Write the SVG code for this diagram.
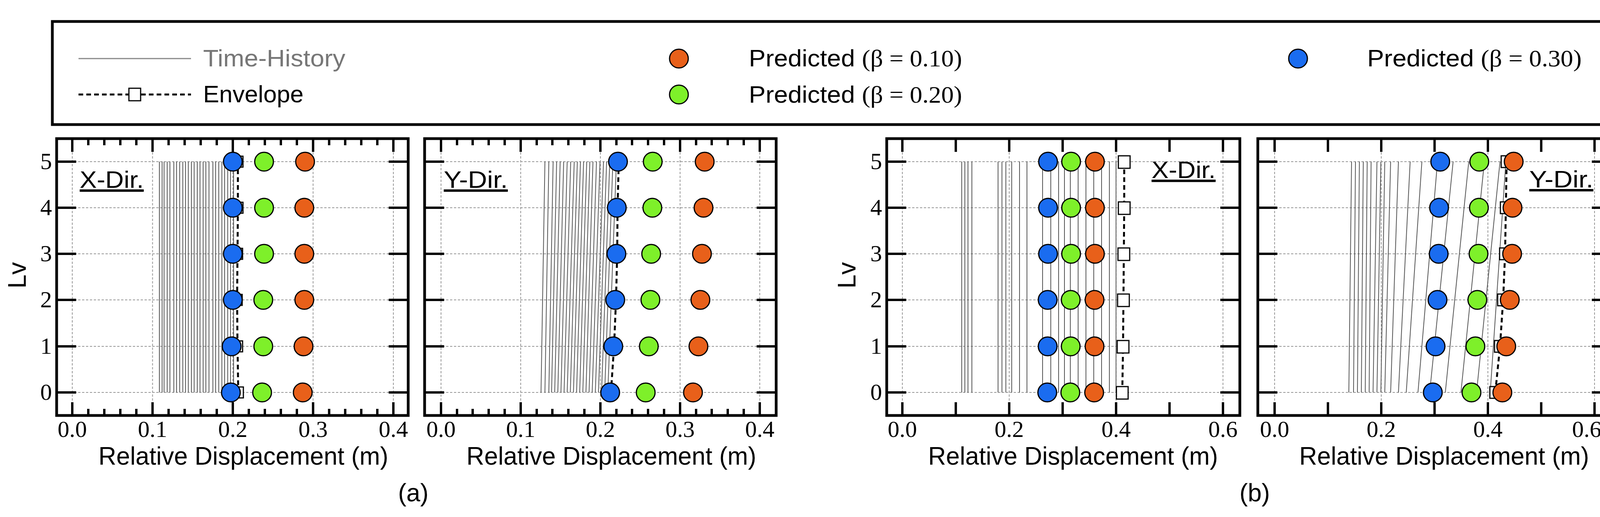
<svg xmlns="http://www.w3.org/2000/svg" width="4180" height="1324" viewBox="0 0 4180 1324">
<style>
.frame{fill:none;stroke:#000;stroke-width:7}
.tk{fill:none;stroke:#000;stroke-width:6}
.grid{fill:none;stroke:#999;stroke-width:2;stroke-dasharray:6 4}
.th{fill:none;stroke:#555;stroke-width:2}
.env{fill:none;stroke:#000;stroke-width:5;stroke-dasharray:12 8}
.sq{fill:#fff;stroke:#000;stroke-width:3}
.b{fill:#1a6cf0;stroke:#000;stroke-width:3}
.g{fill:#7ef02a;stroke:#000;stroke-width:3}
.o{fill:#e8601a;stroke:#000;stroke-width:3}
.num{font-family:"Liberation Serif",serif;font-size:60px;fill:#000}
.lab{font-family:"Liberation Sans",sans-serif;font-size:64px;fill:#000}
.leg{font-family:"Liberation Sans",sans-serif;font-size:62px;fill:#000}
.ser{font-family:"Liberation Serif",serif}
.dir{font-family:"Liberation Sans",sans-serif;font-size:62px;fill:#000;text-decoration:underline}
</style>
<g id="legend">
<rect x="134" y="55" width="3968" height="264" class="frame"/>
<line x1="201" y1="150" x2="489" y2="150" stroke="#888" stroke-width="3"/>
<text x="520" y="170" class="leg" style="fill:#777" textLength="364" lengthAdjust="spacingAndGlyphs">Time-History</text>
<line x1="201" y1="242" x2="489" y2="242" class="env"/>
<rect x="330" y="226" width="30" height="32" class="sq"/>
<text x="520" y="262" class="leg" textLength="257" lengthAdjust="spacingAndGlyphs">Envelope</text>
<ellipse cx="1738" cy="150" rx="24" ry="24" class="o"/>
<text x="1917" y="170" class="leg" textLength="546" lengthAdjust="spacingAndGlyphs">Predicted <tspan class="ser">(β = 0.10)</tspan></text>
<ellipse cx="1738" cy="242" rx="24" ry="24" class="g"/>
<text x="1917" y="263" class="leg" textLength="546" lengthAdjust="spacingAndGlyphs">Predicted <tspan class="ser">(β = 0.20)</tspan></text>
<ellipse cx="3323" cy="150" rx="24" ry="24" class="b"/>
<text x="3500" y="170" class="leg" textLength="549" lengthAdjust="spacingAndGlyphs">Predicted <tspan class="ser">(β = 0.30)</tspan></text>
</g>

<g id="panel-a-x">
<path class="grid" d="M185 360V1060M390.5 360V1060M596 360V1060M801.5 360V1060M1007 360V1060M150 414H1040M150 532H1040M150 650H1040M150 768H1040M150 887H1040M150 1005H1040"/>
<path class="th" d="M408 1005V414M415 1005V414M420 1005V414M428 1005V414M435 1005V414M445 1005V414M452 1005V414M460 1005V414M468 1005V414M475 1005V414M482 1005V414M490 1005V414M497 1005V414M505 1005V414M512 1005V414M520 1005V414M527 1005V414M535 1005V414M545 1005V414M552 1005V414M560 1005V414M568 1005V414M575 1005V414M583 1005V414M590 1005V414M598 1005V414"/>
<path class="env" d="M609 414L609 532L608 650L607 768L608 887L610 1005"/>
<g class="sq"><rect x="596" y="400" width="26" height="28"/><rect x="596" y="518" width="26" height="28"/><rect x="595" y="636" width="26" height="28"/><rect x="594" y="754" width="26" height="28"/><rect x="595" y="873" width="26" height="28"/><rect x="597" y="991" width="26" height="28"/></g>
<g class="b"><circle cx="596" cy="414" r="24"/><circle cx="596" cy="532" r="24"/><circle cx="596" cy="650" r="24"/><circle cx="596" cy="768" r="24"/><circle cx="593" cy="887" r="24"/><circle cx="591" cy="1005" r="24"/></g>
<g class="g"><circle cx="676" cy="414" r="24"/><circle cx="676" cy="532" r="24"/><circle cx="676" cy="650" r="24"/><circle cx="674" cy="768" r="24"/><circle cx="674" cy="887" r="24"/><circle cx="671" cy="1005" r="24"/></g>
<g class="o"><circle cx="781" cy="414" r="24"/><circle cx="779" cy="532" r="24"/><circle cx="779" cy="650" r="24"/><circle cx="779" cy="768" r="24"/><circle cx="777" cy="887" r="24"/><circle cx="775" cy="1005" r="24"/></g>
<path class="tk" d="M185 355v34M390.5 355v34M596 355v34M801.5 355v34M1007 355v34M185 1064v-34M390.5 1064v-34M596 1064v-34M801.5 1064v-34M1007 1064v-34"/>
<path class="tk" stroke-width="4" d="M226 355v17M267 355v17M308 355v17M349 355v17M431.6 355v17M472.7 355v17M513.8 355v17M554.9 355v17M637 355v17M678 355v17M719 355v17M760 355v17M842.6 355v17M883.7 355v17M924.8 355v17M965.9 355v17M226 1064v-17M267 1064v-17M308 1064v-17M349 1064v-17M431.6 1064v-17M472.7 1064v-17M513.8 1064v-17M554.9 1064v-17M637 1064v-17M678 1064v-17M719 1064v-17M760 1064v-17M842.6 1064v-17M883.7 1064v-17M924.8 1064v-17M965.9 1064v-17"/>
<path class="tk" d="M145 414h50M145 532h50M145 650h50M145 768h50M145 887h50M145 1005h50M1045 414h-50M1045 532h-50M1045 650h-50M1045 768h-50M1045 887h-50M1045 1005h-50"/>
<rect x="145" y="355" width="900" height="709" class="frame"/>
<text x="204" y="481" class="dir" textLength="164" lengthAdjust="spacingAndGlyphs">X-Dir.</text>
<g class="num" text-anchor="middle"><text x="185" y="1119">0.0</text><text x="390.5" y="1119">0.1</text><text x="596" y="1119">0.2</text><text x="801.5" y="1119">0.3</text><text x="1007" y="1119">0.4</text></g>
<g class="num" text-anchor="middle"><text x="118" y="433">5</text><text x="118" y="551">4</text><text x="118" y="669">3</text><text x="118" y="787">2</text><text x="118" y="906">1</text><text x="118" y="1024">0</text></g>
<text x="623" y="1190" class="lab" text-anchor="middle" textLength="742" lengthAdjust="spacingAndGlyphs">Relative Displacement (m)</text>
<text transform="translate(66 705) rotate(-90)" class="lab" text-anchor="middle">Lv</text>
</g>

<g id="panel-a-y">
<path class="grid" d="M1129 360V1060M1333 360V1060M1537 360V1060M1741 360V1060M1945 360V1060M1092 414H1982M1092 532H1982M1092 650H1982M1092 768H1982M1092 887H1982M1092 1005H1982"/>
<path class="th" d="M1385 1005L1395 414M1395 1005L1405 414M1405 1005L1416 414M1412 1005L1425 414M1420 1005L1434 414M1428 1005L1443 414M1436 1005L1452 414M1444 1005L1461 414M1452 1005L1470 414M1460 1005L1478 414M1468 1005L1486 414M1476 1005L1494 414M1484 1005L1502 414M1492 1005L1510 414M1500 1005L1518 414M1508 1005L1527 414M1516 1005L1536 414M1524 1005L1545 414M1532 1005L1553 414M1540 1005L1561 414M1548 1005L1569 414M1556 1005L1578 414"/>
<path class="env" d="M1584 414L1581 532L1580 650L1577 768L1572 887L1564 1005"/>
<g class="b"><circle cx="1582" cy="414" r="24"/><circle cx="1579" cy="532" r="24"/><circle cx="1578" cy="650" r="24"/><circle cx="1575" cy="768" r="24"/><circle cx="1570" cy="887" r="24"/><circle cx="1562" cy="1005" r="24"/></g>
<g class="g"><circle cx="1671" cy="414" r="24"/><circle cx="1670" cy="532" r="24"/><circle cx="1667" cy="650" r="24"/><circle cx="1665" cy="768" r="24"/><circle cx="1661" cy="887" r="24"/><circle cx="1653" cy="1005" r="24"/></g>
<g class="o"><circle cx="1804" cy="414" r="24"/><circle cx="1801" cy="532" r="24"/><circle cx="1797" cy="650" r="24"/><circle cx="1793" cy="768" r="24"/><circle cx="1788" cy="887" r="24"/><circle cx="1774" cy="1005" r="24"/></g>
<path class="tk" d="M1129 355v34M1333 355v34M1537 355v34M1741 355v34M1945 355v34M1129 1064v-34M1333 1064v-34M1537 1064v-34M1741 1064v-34M1945 1064v-34"/>
<path class="tk" stroke-width="4" d="M1170 355v17M1210 355v17M1251 355v17M1292 355v17M1374 355v17M1414 355v17M1455 355v17M1496 355v17M1578 355v17M1618 355v17M1659 355v17M1700 355v17M1782 355v17M1822 355v17M1863 355v17M1904 355v17M1170 1064v-17M1210 1064v-17M1251 1064v-17M1292 1064v-17M1374 1064v-17M1414 1064v-17M1455 1064v-17M1496 1064v-17M1578 1064v-17M1618 1064v-17M1659 1064v-17M1700 1064v-17M1782 1064v-17M1822 1064v-17M1863 1064v-17M1904 1064v-17"/>
<path class="tk" d="M1087 414h50M1087 532h50M1087 650h50M1087 768h50M1087 887h50M1087 1005h50M1987 414h-50M1987 532h-50M1987 650h-50M1987 768h-50M1987 887h-50M1987 1005h-50"/>
<rect x="1087" y="355" width="900" height="709" class="frame"/>
<text x="1136" y="481" class="dir" textLength="164" lengthAdjust="spacingAndGlyphs">Y-Dir.</text>
<g class="num" text-anchor="middle"><text x="1129" y="1119">0.0</text><text x="1333" y="1119">0.1</text><text x="1537" y="1119">0.2</text><text x="1741" y="1119">0.3</text><text x="1945" y="1119">0.4</text></g>
<text x="1565" y="1190" class="lab" text-anchor="middle" textLength="742" lengthAdjust="spacingAndGlyphs">Relative Displacement (m)</text>
</g>
<text x="1058" y="1284" class="lab" text-anchor="middle">(a)</text>

<g id="panel-b-x">
<path class="grid" d="M2310 360V1060M2583.6 360V1060M2857.2 360V1060M3130.8 360V1060M2275 414H3169M2275 532H3169M2275 650H3169M2275 768H3169M2275 887H3169M2275 1005H3169"/>
<path class="th" d="M2462 1005V414M2470 1005V414M2478 1005V414M2488 1005V414M2555 1005V414M2565 1005V414M2575 1005V414M2590 1005V414M2610 1005V414M2629 1005V414M2669 1005V414M2690 1005V414M2710 1005V414M2725 1005V414M2740 1005V414M2760 1005V414M2780 1005V414M2800 1005V414M2820 1005V414M2840 1005V414M2857 1005V414"/>
<path class="env" d="M2878 414L2878 532L2877 650L2876 768L2875 887L2873 1005"/>
<g class="sq"><rect x="2863" y="399" width="30" height="32"/><rect x="2863" y="517" width="30" height="32"/><rect x="2862" y="635" width="30" height="32"/><rect x="2861" y="753" width="30" height="32"/><rect x="2860" y="872" width="30" height="32"/><rect x="2858" y="990" width="30" height="32"/></g>
<g class="b"><circle cx="2683" cy="414" r="24"/><circle cx="2683" cy="532" r="24"/><circle cx="2683" cy="650" r="24"/><circle cx="2682" cy="768" r="24"/><circle cx="2682" cy="887" r="24"/><circle cx="2681" cy="1005" r="24"/></g>
<g class="g"><circle cx="2742" cy="414" r="24"/><circle cx="2742" cy="532" r="24"/><circle cx="2742" cy="650" r="24"/><circle cx="2741" cy="768" r="24"/><circle cx="2741" cy="887" r="24"/><circle cx="2740" cy="1005" r="24"/></g>
<g class="o"><circle cx="2803" cy="414" r="24"/><circle cx="2803" cy="532" r="24"/><circle cx="2803" cy="650" r="24"/><circle cx="2802" cy="768" r="24"/><circle cx="2802" cy="887" r="24"/><circle cx="2801" cy="1005" r="24"/></g>
<path class="tk" d="M2310 355v34M2446.8 355v34M2583.6 355v34M2720.4 355v34M2857.2 355v34M2994 355v34M3130.8 355v34M2310 1064v-34M2446.8 1064v-34M2583.6 1064v-34M2720.4 1064v-34M2857.2 1064v-34M2994 1064v-34M3130.8 1064v-34"/>
<path class="tk" d="M2270 414h50M2270 532h50M2270 650h50M2270 768h50M2270 887h50M2270 1005h50M3174 414h-50M3174 532h-50M3174 650h-50M3174 768h-50M3174 887h-50M3174 1005h-50"/>
<rect x="2270" y="355" width="904" height="709" class="frame"/>
<text x="2948" y="456" class="dir" textLength="164" lengthAdjust="spacingAndGlyphs">X-Dir.</text>
<g class="num" text-anchor="middle"><text x="2310" y="1119">0.0</text><text x="2583.6" y="1119">0.2</text><text x="2857.2" y="1119">0.4</text><text x="3130.8" y="1119">0.6</text></g>
<g class="num" text-anchor="middle"><text x="2243" y="433">5</text><text x="2243" y="551">4</text><text x="2243" y="669">3</text><text x="2243" y="787">2</text><text x="2243" y="906">1</text><text x="2243" y="1024">0</text></g>
<text x="2747" y="1190" class="lab" text-anchor="middle" textLength="742" lengthAdjust="spacingAndGlyphs">Relative Displacement (m)</text>
<text transform="translate(2190 705) rotate(-90)" class="lab" text-anchor="middle">Lv</text>
</g>

<g id="panel-b-y">
<path class="grid" d="M3263 360V1060M3536 360V1060M3809 360V1060M4082 360V1060M3225 414H4120M3225 532H4120M3225 650H4120M3225 768H4120M3225 887H4120M3225 1005H4120"/>
<path class="th" d="M3453 1005L3460 414M3465 1005L3470 414M3475 1005L3480 414M3485 1005L3490 414M3495 1005L3500 414M3505 1005L3510 414M3515 1005L3525 414M3525 1005L3535 414M3535 1005L3545 414M3545 1005L3560 414M3560 1005L3580 414M3580 1005L3610 414M3600 1005L3640 414M3630 1005L3680 414M3660 1005L3720 414M3700 1005L3760 414M3740 1005L3800 414M3780 1005L3840 414M3815 1005L3855 414"/>
<path class="env" d="M3857 414L3855 532L3853 650L3848 768L3840 887L3828 1005"/>
<g class="sq"><rect x="3843" y="399" width="28" height="30"/><rect x="3841" y="517" width="28" height="30"/><rect x="3839" y="635" width="28" height="30"/><rect x="3834" y="753" width="28" height="30"/><rect x="3826" y="872" width="28" height="30"/><rect x="3814" y="990" width="28" height="30"/></g>
<g class="b"><circle cx="3687" cy="414" r="24"/><circle cx="3684" cy="532" r="24"/><circle cx="3683" cy="650" r="24"/><circle cx="3680" cy="768" r="24"/><circle cx="3675" cy="887" r="24"/><circle cx="3668" cy="1005" r="24"/></g>
<g class="g"><circle cx="3787" cy="414" r="24"/><circle cx="3786" cy="532" r="24"/><circle cx="3785" cy="650" r="24"/><circle cx="3782" cy="768" r="24"/><circle cx="3777" cy="887" r="24"/><circle cx="3767" cy="1005" r="24"/></g>
<g class="o"><circle cx="3875" cy="414" r="24"/><circle cx="3872" cy="532" r="24"/><circle cx="3871" cy="650" r="24"/><circle cx="3865" cy="768" r="24"/><circle cx="3856" cy="887" r="24"/><circle cx="3846" cy="1005" r="24"/></g>
<path class="tk" d="M3263 355v34M3399.5 355v34M3536 355v34M3672.5 355v34M3809 355v34M3945.5 355v34M4082 355v34M3263 1064v-34M3399.5 1064v-34M3536 1064v-34M3672.5 1064v-34M3809 1064v-34M3945.5 1064v-34M4082 1064v-34"/>
<path class="tk" d="M3220 414h50M3220 532h50M3220 650h50M3220 768h50M3220 887h50M3220 1005h50M4125 414h-50M4125 532h-50M4125 650h-50M4125 768h-50M4125 887h-50M4125 1005h-50"/>
<rect x="3220" y="355" width="905" height="709" class="frame"/>
<text x="3915" y="480" class="dir" textLength="164" lengthAdjust="spacingAndGlyphs">Y-Dir.</text>
<g class="num" text-anchor="middle"><text x="3263" y="1119">0.0</text><text x="3536" y="1119">0.2</text><text x="3809" y="1119">0.4</text><text x="4062" y="1119">0.6</text></g>
<text x="3697" y="1190" class="lab" text-anchor="middle" textLength="742" lengthAdjust="spacingAndGlyphs">Relative Displacement (m)</text>
</g>
<text x="3212" y="1284" class="lab" text-anchor="middle">(b)</text>
</svg>
